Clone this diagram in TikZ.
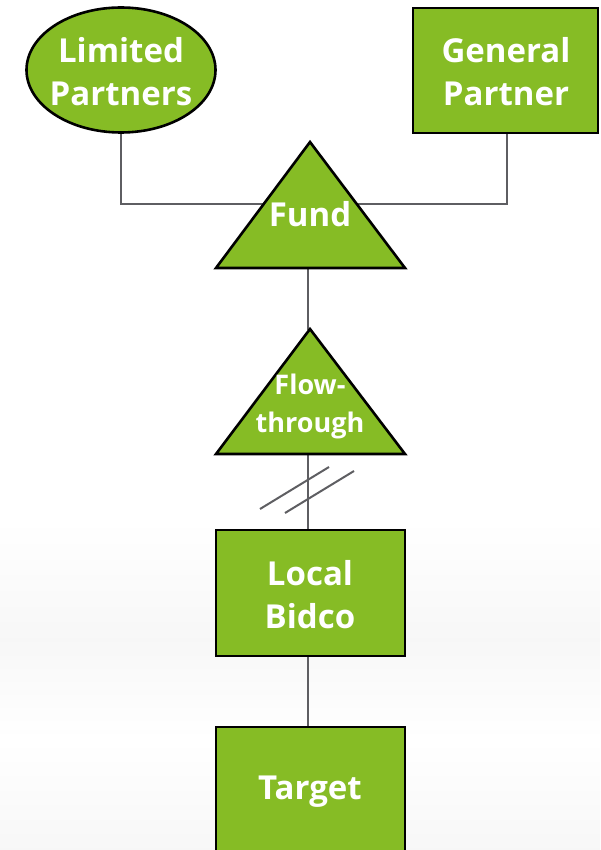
\documentclass[tikz,border=0pt]{standalone}
\usepackage{fontspec}
\setmainfont{Open Sans}
\usetikzlibrary{shapes.geometric}
\definecolor{entgreen}{HTML}{86BC25}
\definecolor{linkgrey}{HTML}{5E5E62}
\tikzset{
  entity/.style={draw=black, line width=2.6pt, fill=entgreen},
  lbl/.style={text=white, font=\fontsize{33}{43}\selectfont\bfseries, align=center, inner sep=0pt},
  smalllbl/.style={text=white, font=\fontsize{27}{38}\selectfont\bfseries, align=center, inner sep=0pt},
  link/.style={draw=linkgrey, line width=2pt},
}
\begin{document}
\begin{tikzpicture}[x=1pt, y=-1pt]
  \useasboundingbox (0,0) rectangle (600,850);
  \clip (0,0) rectangle (600,850);
  \fill[white] (0,0) rectangle (600,850);

  % faint grey haze across the lower part of the page
  \shade[top color=white, bottom color=black!3] (0,520) rectangle (600,640);
  \shade[top color=black!3, bottom color=white] (0,640) rectangle (600,740);
  \shade[top color=white, bottom color=black!3] (0,740) rectangle (600,850);

  % fixed join points on the connectors
  \coordinate (fundjoin) at (308,204);
  \coordinate (fundbase) at (308,268);
  \coordinate (flowtop) at (308,330);
  \coordinate (flowbase) at (308,454);

  % connectors (drawn first so the shapes sit on top)
  \draw[link] (121,133) coordinate (lpfoot) |- (fundjoin);
  \draw[link] (507,133) coordinate (gpfoot) |- (fundjoin);
  \draw[link] (fundbase) -- (flowtop);
  \draw[link] (flowbase) -- (308,530) coordinate (bidcotop);
  \draw[link] (308,656) coordinate (bidcofoot) -- (308,727) coordinate (targettop);

  % break marks on the flow-through link
  \draw[link] (260,509) -- (329,467);
  \draw[link] (285,513) -- (354,471);

  % Limited Partners
  \node[entity, ellipse, minimum width=189pt, minimum height=125pt] (lp) at (121,70) {};
  \node[lbl] (lptext) at (121,72) {Limited\\Partners};

  % General Partner
  \draw[entity] (413,8) rectangle (598,133);
  \node[lbl] (gptext) at (506,72) {General\\Partner};

  % Fund
  \draw[entity, line join=miter] (216,268) -- (310,142) -- (405,268) -- cycle;
  \node[lbl] (fund) at (310,214) {Fund};

  % Flow-through
  \draw[entity, line join=miter] (216,454) -- (310,329) -- (405,454) -- cycle;
  \node[smalllbl] (flow) at (310,406) {Flow-\\through};

  % Local Bidco
  \draw[entity] (216,530) rectangle (405,656);
  \node[lbl] (bidco) at (310,595) {Local\\Bidco};

  % Target
  \draw[entity] (216,727) rectangle (405,870);
  \node[lbl] (target) at (310,792) {Target};
\end{tikzpicture}
\end{document}
